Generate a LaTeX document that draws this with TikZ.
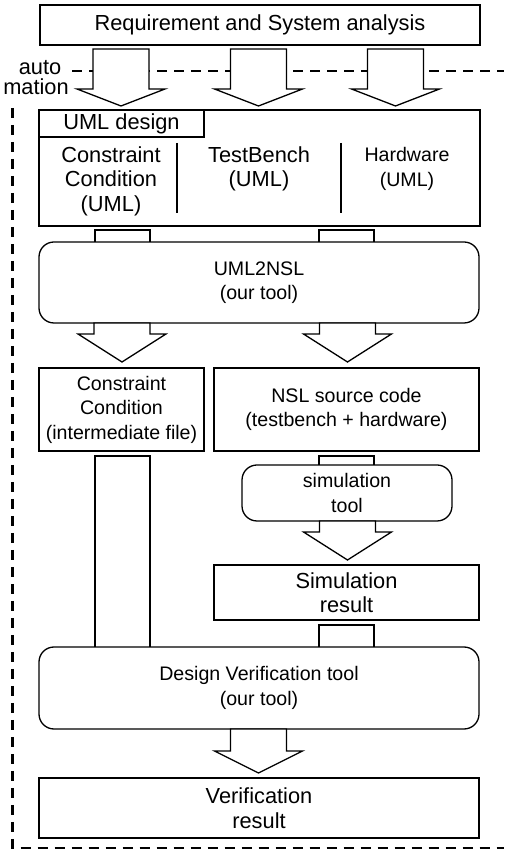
\documentclass[tikz,border=0pt]{standalone}
\usepackage{fontspec}
\setmainfont{Liberation Sans}
\usetikzlibrary{calc}

\newcommand\bigtxt{\fontsize{21.8}{24.5}\selectfont}
\newcommand\smalltxt{\fontsize{19.6}{24.5}\selectfont}

% wide hollow arrow: #1 source node, #2 target node, #3 x centre (pt),
% #4 gap below source, #5 head length, #6 gap above target
\newcommand\fatarrow[6]{%
  \filldraw[fatarr] let \p1=(#1.south), \p2=(#2.north) in
    ({#3pt-28pt},{\y1-#4pt}) -- ({#3pt-28pt},{\y2+#6pt+#5pt})
    -- ({#3pt-44pt},{\y2+#6pt+#5pt}) -- ({#3pt},{\y2+#6pt})
    -- ({#3pt+44pt},{\y2+#6pt+#5pt}) -- ({#3pt+28pt},{\y2+#6pt+#5pt})
    -- ({#3pt+28pt},{\y1-#4pt}) -- cycle;}

% open bar joining two boxes: #1 source, #2 target, #3 x centre, #4 gap below source
\newcommand\joinbar[4]{%
  \draw[thinline] let \p1=(#1.south), \p2=(#2.north) in
    ({#3pt-27.5pt},\y2) -- ({#3pt-27.5pt},{\y1-#4pt})
    -- ({#3pt+27.5pt},{\y1-#4pt}) -- ({#3pt+27.5pt},\y2);}

\begin{document}
\begin{tikzpicture}[x=1pt,y=1pt,
  thinline/.style={line width=1.3pt, line join=miter},
  fatarr/.style={draw, fill=white, line width=1.3pt, line join=miter},
  thickbox/.style={draw, rectangle, line width=2.3pt, align=center,
    inner sep=0pt, outer sep=0pt, font=\bigtxt},
  roundbox/.style={draw, rectangle, rounded corners=15pt, line width=1.3pt,
    align=center, inner sep=0pt, outer sep=0pt, font=\smalltxt},
  label/.style={align=center, inner sep=0pt},
  automark/.style={line width=2.6pt, dash pattern=on 10pt off 7pt}]
\useasboundingbox (0,0) rectangle (504,851);

% boxes
\node[thickbox, minimum width=440, minimum height=40] (req) at (260,826)
  {Requirement and System analysis};
\node[thickbox, minimum width=441, minimum height=116] (uml) at (259.5,683) {};
\node[thinline, draw, anchor=north west, minimum width=165, minimum height=27,
  inner sep=0pt, outer sep=0pt, font=\bigtxt] (tab) at ([xshift=0pt]uml.north west) {UML design};
\node[label, font=\bigtxt] (ccuml) at (111,670) {Constraint\\Condition\\(UML)};
\node[label, font=\bigtxt] (tbuml) at (259,682) {TestBench\\(UML)};
\node[label, font=\smalltxt] (hwuml) at (407,682) {Hardware\\(UML)};
\node[roundbox, minimum width=440, minimum height=81] (conv) at (259,568.5)
  {UML2NSL\\(our tool)};
\node[thickbox, font=\smalltxt, minimum width=165, minimum height=83] (cc) at (121.5,441.5)
  {Constraint\\Condition\\(intermediate file)};
\node[thickbox, font=\smalltxt, minimum width=265, minimum height=83] (nsl) at (346.5,441.5)
  {NSL source code\\(testbench + hardware)};
\node[roundbox, minimum width=210, minimum height=56] (sim) at (347,358)
  {simulation\\tool};
\node[thickbox, minimum width=265, minimum height=55] (simres) at (346.5,258.5)
  {Simulation\\result};
\node[roundbox, minimum width=440, minimum height=82] (dv) at (259,163)
  {Design Verification tool\\(our tool)};
\node[thickbox, minimum width=440, minimum height=60] (vres) at (259,43)
  {Verification\\result};

% column separators inside the UML design box
\draw[thinline] (177,708) -- (177,638);
\draw[thinline] (341,708) -- (341,638);

% automation boundary
\node[label, font=\bigtxt] (autotxt) at (40,783) {auto};
\node[label, font=\bigtxt] (mationtxt) at (36,764) {mation};
\coordinate (autoL) at (72,780);
\coordinate (autoR) at (504,780);
\coordinate (sideT) at (12.5,743);
\coordinate (sideB) at (12.5,3);
\coordinate (baseR) at (504,3);
\draw[automark] (autoL) -- (autoR);
\draw[automark] (sideT) -- (sideB) -- (baseR);

% flow arrows
\fatarrow{req}{uml}{121}{4}{17}{4}
\fatarrow{req}{uml}{258.5}{4}{17}{4}
\fatarrow{req}{uml}{395.5}{4}{17}{4}
\fatarrow{conv}{cc}{122}{0}{28}{6}
\fatarrow{conv}{nsl}{347.5}{0}{28}{6}
\fatarrow{sim}{simres}{347.5}{0}{28}{5}
\fatarrow{dv}{vres}{258.5}{0}{22}{5}

% bars between boxes
\joinbar{uml}{conv}{122.5}{4}
\joinbar{uml}{conv}{346.5}{4}
\joinbar{nsl}{sim}{346.5}{5}
\joinbar{cc}{dv}{122.5}{5}
\joinbar{simres}{dv}{346.5}{5}
\end{tikzpicture}
\end{document}
